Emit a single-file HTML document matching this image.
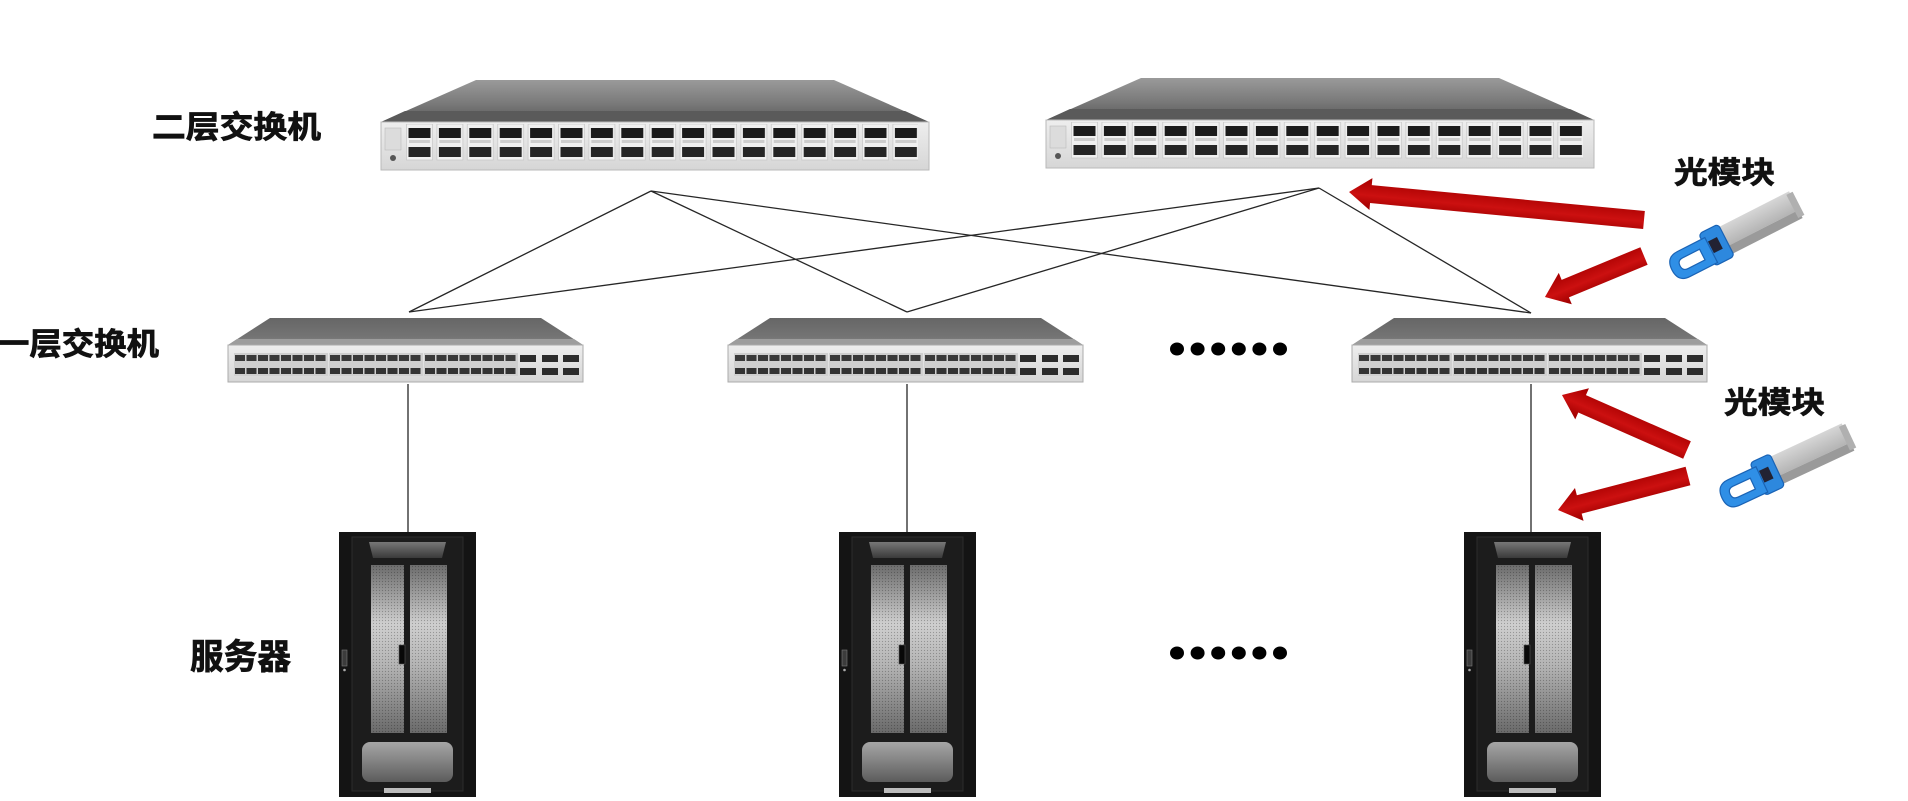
<!DOCTYPE html>
<html>
<head>
<meta charset="utf-8">
<style>
  html,body{margin:0;padding:0;background:#fff;}
  svg{display:block;}
  .lbl{font-family:"Liberation Sans","Noto Sans CJK SC","WenQuanYi Zen Hei",sans-serif;font-weight:700;fill:#111;stroke:#111;stroke-width:0.7;}
</style>
</head>
<body>
<svg width="1908" height="801" viewBox="0 0 1908 801" xmlns="http://www.w3.org/2000/svg">
<defs>
  <linearGradient id="topSurf" x1="0" y1="0" x2="0" y2="1">
    <stop offset="0" stop-color="#9a9a9a"/>
    <stop offset="0.55" stop-color="#7a7a7a"/>
    <stop offset="1" stop-color="#5a5a5a"/>
  </linearGradient>
  <linearGradient id="lowSurf" x1="0" y1="0" x2="0" y2="1">
    <stop offset="0" stop-color="#666"/>
    <stop offset="0.7" stop-color="#747474"/>
    <stop offset="1" stop-color="#888"/>
  </linearGradient>
  <linearGradient id="panelG" x1="0" y1="0" x2="0" y2="1">
    <stop offset="0" stop-color="#eeeeee"/>
    <stop offset="1" stop-color="#d6d6d6"/>
  </linearGradient>
  <pattern id="qp" patternUnits="userSpaceOnUse" x="25" y="124" width="30.4" height="40">
    <rect x="0.5" y="0" width="26" height="36" fill="#f0f0f0" stroke="#c4c4c4" stroke-width="0.7"/>
    <rect x="2.5" y="4" width="22" height="10" fill="#1b1b1b"/>
    <rect x="2.5" y="23" width="22" height="10" fill="#252525"/>
    <rect x="3" y="16" width="21" height="3" fill="#cdcdcd"/>
  </pattern>
  <g id="sfpgrp">
    <rect x="-1" y="-2" width="94" height="23" fill="#cfcfcf"/>
    <rect x="0" y="0" width="10" height="6" fill="#3a3a3a"/><rect x="11.5" y="0" width="10" height="6" fill="#3a3a3a"/>
    <rect x="23" y="0" width="10" height="6" fill="#3a3a3a"/><rect x="34.5" y="0" width="10" height="6" fill="#3a3a3a"/>
    <rect x="46" y="0" width="10" height="6" fill="#3a3a3a"/><rect x="57.5" y="0" width="10" height="6" fill="#3a3a3a"/>
    <rect x="69" y="0" width="10" height="6" fill="#3a3a3a"/><rect x="80.5" y="0" width="10" height="6" fill="#3a3a3a"/>
    <rect x="0" y="13" width="10" height="6" fill="#333"/><rect x="11.5" y="13" width="10" height="6" fill="#333"/>
    <rect x="23" y="13" width="10" height="6" fill="#333"/><rect x="34.5" y="13" width="10" height="6" fill="#333"/>
    <rect x="46" y="13" width="10" height="6" fill="#333"/><rect x="57.5" y="13" width="10" height="6" fill="#333"/>
    <rect x="69" y="13" width="10" height="6" fill="#333"/><rect x="80.5" y="13" width="10" height="6" fill="#333"/>
  </g>
  <g id="lowsw">
    <polygon points="0,345 42,318 313,318 355,345" fill="url(#lowSurf)"/>
    <polygon points="0,345 9,339 346,339 355,345" fill="#9d9d9d"/>
    <rect x="0" y="345" width="355" height="37" fill="url(#panelG)" stroke="#ababab" stroke-width="1"/>
    <use href="#sfpgrp" x="7" y="355"/>
    <use href="#sfpgrp" x="102" y="355"/>
    <use href="#sfpgrp" x="197" y="355"/>
    <rect x="292" y="355" width="16" height="7" fill="#2c2c2c"/><rect x="314" y="355" width="16" height="7" fill="#2c2c2c"/><rect x="335" y="355" width="16" height="7" fill="#2c2c2c"/>
    <rect x="292" y="368" width="16" height="7" fill="#2c2c2c"/><rect x="314" y="368" width="16" height="7" fill="#2c2c2c"/><rect x="335" y="368" width="16" height="7" fill="#2c2c2c"/>
  </g>
  <g id="topsw">
    <polygon points="0,122 95,80 453,80 548,122" fill="url(#topSurf)"/>
    <polygon points="0,122 24,111 524,111 548,122" fill="#5a5a5a"/>
    <rect x="0" y="122" width="548" height="48" fill="url(#panelG)" stroke="#b9b9b9" stroke-width="1"/>
    <rect x="25" y="124" width="512" height="37" fill="url(#qp)"/>
    <rect x="4" y="128" width="16" height="22" fill="#dcdcdc" stroke="#bbb" stroke-width="0.6"/>
    <circle cx="12" cy="158" r="3" fill="#555"/>
  </g>
  <linearGradient id="doorG" x1="0" y1="0" x2="0" y2="1">
    <stop offset="0" stop-color="#6c6c6c"/>
    <stop offset="0.35" stop-color="#cfcfcf"/>
    <stop offset="0.6" stop-color="#b4b4b4"/>
    <stop offset="1" stop-color="#6a6a6a"/>
  </linearGradient>
  <linearGradient id="ventG" x1="0" y1="0" x2="0" y2="1">
    <stop offset="0" stop-color="#777"/>
    <stop offset="1" stop-color="#3a3a3a"/>
  </linearGradient>
  <linearGradient id="baseG" x1="0" y1="0" x2="0" y2="1">
    <stop offset="0" stop-color="#a6a6a6"/>
    <stop offset="1" stop-color="#5c5c5c"/>
  </linearGradient>
  <pattern id="perf" patternUnits="userSpaceOnUse" width="3" height="3">
    <circle cx="1.5" cy="1.5" r="0.6" fill="#000" fill-opacity="0.25"/>
  </pattern>
  <g id="rack">
    <rect x="0" y="0" width="137" height="265" fill="#141414"/>
    <rect x="13" y="5" width="111" height="254" fill="#1c1c1c" stroke="#2c2c2c" stroke-width="1"/>
    <polygon points="30,10 107,10 103,26 34,26" fill="url(#ventG)"/>
    <rect x="32" y="33" width="33" height="168" fill="url(#doorG)"/>
    <rect x="71" y="33" width="37" height="168" fill="url(#doorG)"/>
    <rect x="32" y="33" width="33" height="168" fill="url(#perf)"/>
    <rect x="71" y="33" width="37" height="168" fill="url(#perf)"/>
    <rect x="23" y="210" width="91" height="40" rx="8" fill="url(#baseG)"/>
    <rect x="45" y="256" width="47" height="5" fill="#bdbdbd"/>
    <rect x="3" y="118" width="5" height="16" fill="#3c3c3c" stroke="#777" stroke-width="0.6"/>
    <circle cx="5.5" cy="138" r="1.3" fill="#aaa"/>
    <rect x="60" y="113" width="6" height="19" fill="#080808" stroke="#555" stroke-width="0.6"/>
  </g>
  <linearGradient id="greyBody" x1="0" y1="0" x2="0" y2="1">
    <stop offset="0" stop-color="#d6d6d6"/>
    <stop offset="1" stop-color="#b4b4b4"/>
  </linearGradient>
  <g id="sfp">
    <rect x="55" y="-17" width="85" height="21" fill="url(#greyBody)"/>
    <rect x="55" y="4" width="85" height="9" fill="#9a9a9a"/>
    <rect x="136" y="-15" width="7" height="26" fill="#b0b0b0"/>
    <rect x="40" y="-20" width="22" height="36" rx="4" fill="#2d88de" stroke="#1a63b5" stroke-width="1.2"/>
    <rect x="45" y="-9" width="10" height="13" fill="#223"/>
    <path d="M44,-14 L13,-14 Q0,-14 0,0 Q0,14 13,14 L44,14 Z M34,-6 L15,-6 Q9,-6 9,0 Q9,6 15,6 L34,6 Z" fill="#2f8fe6" fill-rule="evenodd" stroke="#1a63b5" stroke-width="1.2"/>
  </g>
  <linearGradient id="redG" gradientUnits="userSpaceOnUse" x1="0" y1="-15" x2="0" y2="15">
    <stop offset="0" stop-color="#a00000"/>
    <stop offset="0.45" stop-color="#cc1010"/>
    <stop offset="1" stop-color="#a80000"/>
  </linearGradient>
</defs>

<!-- connector lines -->
<g stroke="#262626" stroke-width="1.3" fill="none">
  <line x1="651" y1="191" x2="409" y2="312"/>
  <line x1="651" y1="191" x2="907" y2="312"/>
  <line x1="651" y1="191" x2="1531" y2="313"/>
  <line x1="1319" y1="188" x2="409" y2="312"/>
  <line x1="1319" y1="188" x2="907" y2="312"/>
  <line x1="1319" y1="188" x2="1531" y2="313"/>
  <line x1="408" y1="384" x2="408" y2="533"/>
  <line x1="907" y1="384" x2="907" y2="533"/>
  <line x1="1531" y1="384" x2="1531" y2="533"/>
</g>

<!-- top switches -->
<use href="#topsw" transform="translate(381,0)"/>
<use href="#topsw" transform="translate(1046,-2)"/>

<!-- lower switches -->
<use href="#lowsw" transform="translate(228,0)"/>
<use href="#lowsw" transform="translate(728,0)"/>
<use href="#lowsw" transform="translate(1352,0)"/>

<!-- racks -->
<use href="#rack" transform="translate(339,532)"/>
<use href="#rack" transform="translate(839,532)"/>
<use href="#rack" transform="translate(1464,532)"/>

<!-- dots -->
<g fill="#000">
  <ellipse cx="1177" cy="349" rx="7" ry="6.5"/><ellipse cx="1197.6" cy="349" rx="7" ry="6.5"/><ellipse cx="1218.2" cy="349" rx="7" ry="6.5"/>
  <ellipse cx="1238.8" cy="349" rx="7" ry="6.5"/><ellipse cx="1259.4" cy="349" rx="7" ry="6.5"/><ellipse cx="1280" cy="349" rx="7" ry="6.5"/>
  <ellipse cx="1177" cy="653" rx="7" ry="6.5"/><ellipse cx="1197.6" cy="653" rx="7" ry="6.5"/><ellipse cx="1218.2" cy="653" rx="7" ry="6.5"/>
  <ellipse cx="1238.8" cy="653" rx="7" ry="6.5"/><ellipse cx="1259.4" cy="653" rx="7" ry="6.5"/><ellipse cx="1280" cy="653" rx="7" ry="6.5"/>
</g>

<!-- red arrows -->
<g fill="url(#redG)">
  <polygon transform="translate(1644,220) rotate(185.42)" points="0,-9 274.3,-9 274.3,-16 296.3,0 274.3,16 274.3,9 0,9"/>
  <polygon transform="translate(1644,256) rotate(157.5)" points="0,-9.5 85.2,-9.5 85.2,-17 107.2,0 85.2,17 85.2,9.5 0,9.5"/>
  <polygon transform="translate(1687,450) rotate(203.75)" points="0,-9.5 114.6,-9.5 114.6,-17 136.6,0 114.6,17 114.6,9.5 0,9.5"/>
  <polygon transform="translate(1688,476) rotate(165.34)" points="0,-9.5 112.4,-9.5 112.4,-17 134.4,0 112.4,17 112.4,9.5 0,9.5"/>
</g>

<!-- optical modules -->
<use href="#sfp" transform="translate(1672,270) rotate(-27)"/>
<use href="#sfp" transform="translate(1722,498) rotate(-25)"/>

<!-- labels -->
<text class="lbl" x="152" y="138" font-size="31" textLength="169" lengthAdjust="spacingAndGlyphs">二层交换机</text>
<text class="lbl" x="-3" y="355" font-size="31" textLength="162" lengthAdjust="spacingAndGlyphs">一层交换机</text>
<text class="lbl" x="190" y="669" font-size="35" textLength="101" lengthAdjust="spacingAndGlyphs">服务器</text>
<text class="lbl" x="1674" y="183" font-size="30" textLength="101" lengthAdjust="spacingAndGlyphs">光模块</text>
<text class="lbl" x="1724" y="413" font-size="30" textLength="101" lengthAdjust="spacingAndGlyphs">光模块</text>
</svg>
</body>
</html>
